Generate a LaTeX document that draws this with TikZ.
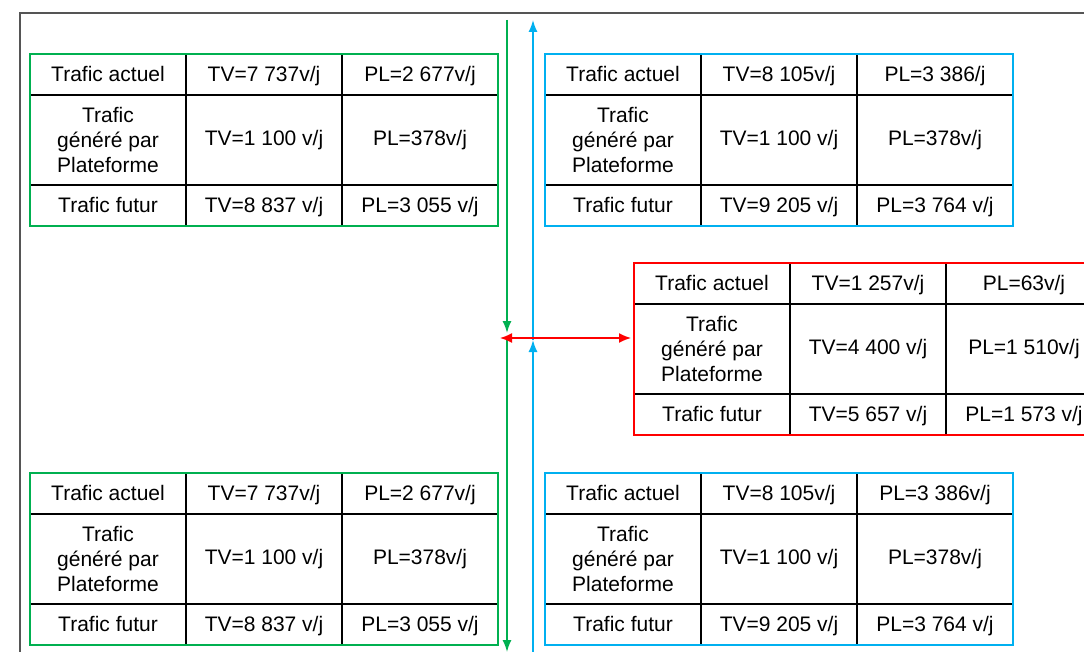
\documentclass[tikz,border=0pt]{standalone}
\usepackage{fontspec}
\setmainfont{Liberation Sans}
\usetikzlibrary{positioning,arrows.meta}
\definecolor{trafgreen}{HTML}{00B050}
\definecolor{trafblue}{HTML}{00B0F0}
\definecolor{trafred}{HTML}{FF0000}
\definecolor{framegray}{HTML}{555555}

\tikzset{
  basecell/.style={draw, rectangle, line width=1.4pt, minimum width=156pt,
    inner sep=0pt, outer sep=0pt, align=center, font=\fontsize{21}{25}\selectfont},
  cell/.style={basecell, minimum height=41pt, text height=16pt, text depth=2pt},
  tallcell/.style={basecell, minimum height=90pt},
  tabbox/.style={line width=1.5pt},
  flow/.style={line width=1.5pt, -{Latex[length=12pt,width=9pt]}},
}

\begin{document}
\begin{tikzpicture}[x=1pt, y=-1pt]
\useasboundingbox (0,0) rectangle (1084,652);
\clip (0,0) rectangle (1084,652);
\fill[white] (0,0) rectangle (1084,652);
\draw[framegray, line width=2pt] (1084,13) -| (20,652);
%============ top left
\node[cell, anchor=north west] (TLa1) at (30,54) {Trafic actuel};
\node[cell, right=0pt of TLa1] (TLa2) {TV=7 737v/j};
\node[cell, right=0pt of TLa2] (TLa3) {PL=2 677v/j};
\node[tallcell, below=0pt of TLa1] (TLg1) {Trafic\\généré par\\Plateforme};
\node[tallcell, below=0pt of TLa2] (TLg2) {TV=1 100 v/j};
\node[tallcell, below=0pt of TLa3] (TLg3) {PL=378v/j};
\node[cell, below=0pt of TLg1] (TLf1) {Trafic futur};
\node[cell, below=0pt of TLg2] (TLf2) {TV=8 837 v/j};
\node[cell, below=0pt of TLg3] (TLf3) {PL=3 055 v/j};
\draw[tabbox, trafgreen] (TLa1.north west) rectangle (TLf3.south east);
%============ top right
\node[cell, anchor=north west] (TRa1) at (545,54) {Trafic actuel};
\node[cell, right=0pt of TRa1] (TRa2) {TV=8 105v/j};
\node[cell, right=0pt of TRa2] (TRa3) {PL=3 386/j};
\node[tallcell, below=0pt of TRa1] (TRg1) {Trafic\\généré par\\Plateforme};
\node[tallcell, below=0pt of TRa2] (TRg2) {TV=1 100 v/j};
\node[tallcell, below=0pt of TRa3] (TRg3) {PL=378v/j};
\node[cell, below=0pt of TRg1] (TRf1) {Trafic futur};
\node[cell, below=0pt of TRg2] (TRf2) {TV=9 205 v/j};
\node[cell, below=0pt of TRg3] (TRf3) {PL=3 764 v/j};
\draw[tabbox, trafblue] (TRa1.north west) rectangle (TRf3.south east);
%============ middle right
\node[cell, anchor=north west] (Ra1) at (634,263) {Trafic actuel};
\node[cell, right=0pt of Ra1] (Ra2) {TV=1 257v/j};
\node[cell, right=0pt of Ra2] (Ra3) {PL=63v/j};
\node[tallcell, below=0pt of Ra1] (Rg1) {Trafic\\généré par\\Plateforme};
\node[tallcell, below=0pt of Ra2] (Rg2) {TV=4 400 v/j};
\node[tallcell, below=0pt of Ra3] (Rg3) {PL=1 510v/j};
\node[cell, below=0pt of Rg1] (Rf1) {Trafic futur};
\node[cell, below=0pt of Rg2] (Rf2) {TV=5 657 v/j};
\node[cell, below=0pt of Rg3] (Rf3) {PL=1 573 v/j};
\draw[tabbox, trafred] (Ra1.north west) rectangle (Rf3.south east);
%============ bottom left
\node[cell, anchor=north west] (BLa1) at (30,473) {Trafic actuel};
\node[cell, right=0pt of BLa1] (BLa2) {TV=7 737v/j};
\node[cell, right=0pt of BLa2] (BLa3) {PL=2 677v/j};
\node[tallcell, below=0pt of BLa1] (BLg1) {Trafic\\généré par\\Plateforme};
\node[tallcell, below=0pt of BLa2] (BLg2) {TV=1 100 v/j};
\node[tallcell, below=0pt of BLa3] (BLg3) {PL=378v/j};
\node[cell, below=0pt of BLg1] (BLf1) {Trafic futur};
\node[cell, below=0pt of BLg2] (BLf2) {TV=8 837 v/j};
\node[cell, below=0pt of BLg3] (BLf3) {PL=3 055 v/j};
\draw[tabbox, trafgreen] (BLa1.north west) rectangle (BLf3.south east);
%============ bottom right
\node[cell, anchor=north west] (BRa1) at (545,473) {Trafic actuel};
\node[cell, right=0pt of BRa1] (BRa2) {TV=8 105v/j};
\node[cell, right=0pt of BRa2] (BRa3) {PL=3 386v/j};
\node[tallcell, below=0pt of BRa1] (BRg1) {Trafic\\généré par\\Plateforme};
\node[tallcell, below=0pt of BRa2] (BRg2) {TV=1 100 v/j};
\node[tallcell, below=0pt of BRa3] (BRg3) {PL=378v/j};
\node[cell, below=0pt of BRg1] (BRf1) {Trafic futur};
\node[cell, below=0pt of BRg2] (BRf2) {TV=9 205 v/j};
\node[cell, below=0pt of BRg3] (BRf3) {PL=3 764 v/j};
\draw[tabbox, trafblue] (BRa1.north west) rectangle (BRf3.south east);
%============ flows
\coordinate (gtop) at (507,20);
\coordinate (gmid) at (507,333);
\coordinate (gstart) at (507,340);
\coordinate (gbot) at (507,652);
\coordinate (btop) at (533,20);
\coordinate (bmid) at (533,340);
\coordinate (bbot) at (533,660);
\coordinate (rleft) at (500,338);
\coordinate (rright) at (631,338);

            \draw[flow, trafgreen] (gtop) -- (gmid);
            \draw[flow, trafgreen] (gstart) -- (gbot);
            \draw[flow, trafblue] (bmid) -- (btop);
            \draw[flow, trafblue] (bbot) -- (bmid);
            \draw[flow, trafred, {Latex[length=12pt,width=10pt]}-{Latex[length=12pt,width=10pt]}] (rleft) -- (rright);
\end{tikzpicture}
\end{document}
